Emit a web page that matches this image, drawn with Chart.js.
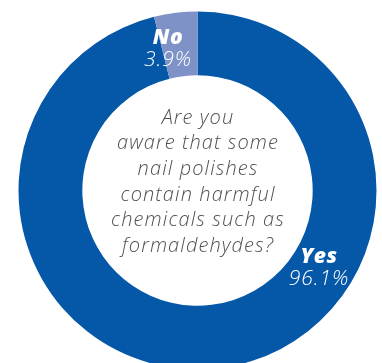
<!DOCTYPE html>
<html>
<head>
<meta charset="utf-8">
<script src="https://cdn.jsdelivr.net/npm/chart.js@4/dist/chart.umd.min.js"></script>
<style>
  html, body { margin: 0; padding: 0; background: #fff; overflow: hidden; }
  #wrap { position: relative; width: 382px; height: 363px; }
</style>
</head>
<body>
<div id="wrap"><canvas id="awareness"></canvas></div>
<script>
// answers and shares (%)
const answers = ['Yes', 'No'];
const shares = [96.1, 3.9];
const question = ['Are you', 'aware that some', 'nail polishes', 'contain harmful', 'chemicals such as', 'formaldehydes?'];

// label placement: angle on the ring (degrees clockwise from top) for each answer
const labelAngle = { Yes: 122.5, No: -11.8 };

const centerText = {
    id: 'centerText',
    afterDraw(chart) {
        const ctx = chart.ctx;
        const arc = chart.getDatasetMeta(0).data[0];
        const cx = arc.x, cy = arc.y;
        ctx.save();
        ctx.fillStyle = '#505050';
        ctx.textAlign = 'center';
        ctx.textBaseline = 'middle';
        ctx.font = 'italic 300 20px "Open Sans", Lato, sans-serif';
        ctx.letterSpacing = '1.1px';
        const lh = 25.6;
        const top = cy - 72.5;
        question.forEach((line, i) => ctx.fillText(line, cx + 0.5, top + i * lh));
        ctx.restore();
    }
};

const sliceLabels = {
    id: 'sliceLabels',
    afterDraw(chart) {
        const ctx = chart.ctx;
        const meta = chart.getDatasetMeta(0);
        ctx.save();
        ctx.fillStyle = '#ffffff';
        ctx.textAlign = 'center';
        ctx.textBaseline = 'middle';
        meta.data.forEach((arc, i) => {
            const name = answers[i];
            const r = (arc.innerRadius + arc.outerRadius) / 2 - 3;
            const a = labelAngle[name] * Math.PI / 180;
            const x = arc.x + Math.sin(a) * r;
            const y = arc.y - Math.cos(a) * r;
            ctx.letterSpacing = '0.5px';
            ctx.font = 'italic 800 21px "Open Sans", Lato, sans-serif';
            ctx.fillText(name, x, y - 11);
            ctx.letterSpacing = '1px';
            ctx.font = 'italic 300 21px "Open Sans", Lato, sans-serif';
            ctx.fillText(shares[i].toFixed(1) + '%', x, y + 11);
        });
        ctx.restore();
    }
};

new Chart(document.getElementById('awareness'), {
    type: 'doughnut',
    data: {
        labels: answers,
        datasets: [{
            data: shares,
            backgroundColor: ['#0557a7', '#7f92c8'],
            borderWidth: 0,
            hoverOffset: 0
        }]
    },
    options: {
        responsive: true,
        maintainAspectRatio: false,
        animation: false,
        radius: 179,
        cutout: 111,
        layout: { padding: { left: 13, top: 18, right: 0, bottom: 0 } },
        plugins: {
            legend: { display: false },
            tooltip: { enabled: false }
        }
    },
    plugins: [centerText, sliceLabels]
});
</script>
</body>
</html>
